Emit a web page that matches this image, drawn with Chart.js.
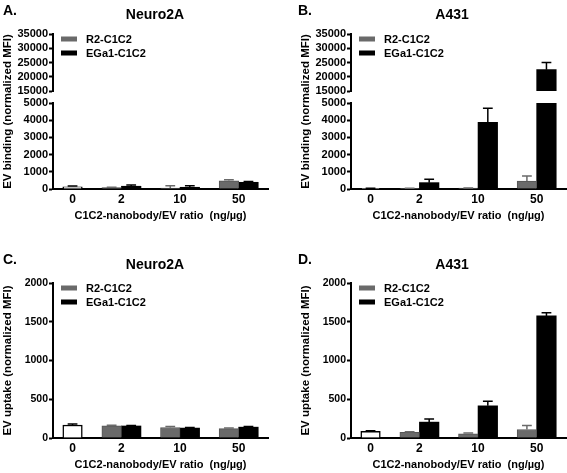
<!DOCTYPE html>
<html>
<head>
<meta charset="utf-8">
<script src="https://cdn.jsdelivr.net/npm/chart.js@4.4.1/dist/chart.umd.min.js"></script>
<style>
  html, body { margin: 0; padding: 0; background: #fff; }
  body { width: 567px; height: 473px; position: relative; overflow: hidden;
         font-family: 'Liberation Sans', Arial, Helvetica, sans-serif; font-weight: bold; color: #000; }
  canvas { position: absolute; }
  .letter, .title { position: absolute; white-space: nowrap; line-height: 1; font-size: 14px; }
  .letter { transform: translateY(-50%); }
  .title { transform: translate(-50%, -50%); }
  .legend { position: absolute; font-size: 11px; line-height: 1; }
  .legend .row { position: absolute; left: 0; white-space: nowrap; transform: translateY(-50%);
                 display: flex; align-items: center; }
  .legend .sw { display: inline-block; width: 16px; height: 5px; margin-right: 9px; }
</style>
</head>
<body>
<canvas id="cA" width="269" height="224" style="left:0;top:0"></canvas>
<canvas id="cB" width="269" height="224" style="left:298px;top:0"></canvas>
<canvas id="cC" width="269" height="224" style="left:0;top:249px"></canvas>
<canvas id="cD" width="269" height="224" style="left:298px;top:249px"></canvas>

<div class="letter" style="left:3px;top:10px">A.</div>
<div class="letter" style="left:298px;top:10px">B.</div>
<div class="letter" style="left:3px;top:259px">C.</div>
<div class="letter" style="left:298px;top:259px">D.</div>
<div class="title" style="left:155px;top:14px">Neuro2A</div>
<div class="title" style="left:452px;top:14px">A431</div>
<div class="title" style="left:155px;top:264px">Neuro2A</div>
<div class="title" style="left:452px;top:264px">A431</div>

<script>
const doses = ['0', '2', '10', '50'];
const seriesLabels = ['R2-C1C2', 'EGa1-C1C2'];

// A. EV binding, Neuro2A (control at 0, then 2/10/50 ng/ug)
const bindNeuroCtrl = [130];
const bindNeuroCtrlErr = [50];
const bindNeuroR2 = [80, 60, 480];
const bindNeuroR2Err = [15, 130, 60];
const bindNeuroEGa1 = [160, 100, 390];
const bindNeuroEGa1Err = [70, 90, 50];

// B. EV binding, A431
const bindA431Ctrl = [40];
const bindA431CtrlErr = [10];
const bindA431R2 = [40, 50, 460];
const bindA431R2Err = [10, 10, 290];
const bindA431EGa1 = [370, 3870, 22500];
const bindA431EGa1Err = [190, 830, 2500];

// C. EV uptake, Neuro2A
const upNeuroCtrl = [168];
const upNeuroCtrlErr = [12];
const upNeuroR2 = [158, 135, 120];
const upNeuroR2Err = [8, 14, 8];
const upNeuroEGa1 = [155, 128, 140];
const upNeuroEGa1Err = [6, 6, 8];

// D. EV uptake, A431
const upA431Ctrl = [85];
const upA431CtrlErr = [8];
const upA431R2 = [72, 55, 110];
const upA431R2Err = [8, 10, 50];
const upA431EGa1 = [205, 415, 1575];
const upA431EGa1Err = [40, 60, 40];

// y tick labels
const bindLowTicks = [0, 1000, 2000, 3000, 4000, 5000];
const bindHighTicks = [15000, 20000, 25000, 30000, 35000];
const uptakeTicks = [0, 500, 1000, 1500, 2000];

Chart.defaults.font.family = "'Liberation Sans', Arial, Helvetica, sans-serif";
Chart.defaults.font.weight = 'bold';
Chart.defaults.color = '#000';

const R2_COLOR = '#6a6a6a';
const EGA_COLOR = '#000000';
const seriesColors = [R2_COLOR, EGA_COLOR];

// x runs in bar-width slots: control alone, then R2/EGa1 pairs with an empty slot between groups
const SLOTS = 11;
const ctrlSlot = 1;
const pairSlot = (i, s) => 3 + 3 * i + s;
const groupCenters = [ctrlSlot, pairSlot(0, 0.5), pairSlot(1, 0.5), pairSlot(2, 0.5)];

// SEM whiskers, upward only, same colour as the bar
const errorBars = {
    id: 'errorBars',
    afterDatasetsDraw(chart) {
        const ctx = chart.ctx;
        chart.data.datasets.forEach((ds, di) => {
            if (!ds.errors) return;
            const meta = chart.getDatasetMeta(di);
            const yScale = chart.scales[meta.yAxisID];
            meta.data.forEach((bar, i) => {
                const v = ds.data[i].y, e = ds.errors[i];
                if (v == null || e == null) return;
                const y0 = yScale.getPixelForValue(v);
                const y1 = yScale.getPixelForValue(v + e);
                const half = bar.width * 0.25;
                ctx.save();
                ctx.strokeStyle = ds.errorColor;
                ctx.lineWidth = 1.5;
                ctx.beginPath();
                ctx.moveTo(bar.x, y0);
                ctx.lineTo(bar.x, y1);
                ctx.moveTo(bar.x - half, y1);
                ctx.lineTo(bar.x + half, y1);
                ctx.stroke();
                ctx.restore();
            });
        });
    }
};

function makeSets(p, yAxisID, lo, hi) {
    // bars are cut at the top of the axis window, errors only where the bar ends inside it
    const fit = v => (v > lo ? Math.min(v, hi) : null);
    const errFit = (v, e) => (v > lo && v <= hi ? e : null);
    return [
        { label: 'control', yAxisID,
          data: p.ctrl.map(v => ({ x: ctrlSlot, y: fit(v) })),
          errors: p.ctrl.map((v, i) => errFit(v, p.ctrlErr[i])),
          backgroundColor: '#ffffff', borderColor: '#000', borderWidth: 1.5, errorColor: '#000' },
        { label: seriesLabels[0], yAxisID,
          data: p.r2.map((v, i) => ({ x: pairSlot(i, 0), y: fit(v) })),
          errors: p.r2.map((v, i) => errFit(v, p.r2Err[i])),
          backgroundColor: R2_COLOR, borderColor: '#555', borderWidth: 1, errorColor: R2_COLOR },
        { label: seriesLabels[1], yAxisID,
          data: p.eg.map((v, i) => ({ x: pairSlot(i, 1), y: fit(v) })),
          errors: p.eg.map((v, i) => errFit(v, p.egErr[i])),
          backgroundColor: EGA_COLOR, borderColor: EGA_COLOR, borderWidth: 0, errorColor: EGA_COLOR }
    ];
}

function valueAxis(ticks, tickSize, extra) {
    return Object.assign({
        position: 'left',
        beginAtZero: false,
        min: ticks[0],
        max: ticks[ticks.length - 1],
        afterBuildTicks: s => { s.ticks = ticks.map(value => ({ value })); },
        ticks: { autoSkip: false, padding: 1, font: { size: tickSize, weight: 'bold' }, callback: v => String(v) },
        grid: { drawOnChartArea: false, drawTicks: true, tickLength: 4, tickWidth: 2, tickColor: '#000' },
        border: { color: '#000', width: 2 }
    }, extra);
}

const xAxis = {
    type: 'linear',
    min: 0,
    max: SLOTS,
    offset: false,
    afterBuildTicks: s => { s.ticks = groupCenters.map(value => ({ value })); },
    afterFit: s => { s.height = 35; },
    grid: { display: false, drawTicks: false },
    border: { color: '#000', width: 2 },
    ticks: { autoSkip: false, maxRotation: 0, padding: 3, font: { size: 12, weight: 'bold' },
             callback: (v, i) => doses[i] },
    title: { display: true, text: 'C1C2-nanobody/EV ratio  (ng/µg)',
             font: { size: 11, weight: 'bold' }, padding: { top: 2, bottom: 1 } }
};

const yTitleText = { bind: 'EV binding (normalized MFI)', uptake: 'EV uptake (normalized MFI)' };

function makeChart(p) {
    let datasets, scales;
    if (p.broken) {
        datasets = makeSets(p, 'yLow', 0, bindLowTicks[bindLowTicks.length - 1])
            .concat(makeSets(p, 'yHigh', bindHighTicks[0], bindHighTicks[bindHighTicks.length - 1]));
        scales = {
            x: xAxis,
            yLow: valueAxis(bindLowTicks, 11, { stack: 'left', stackWeight: 86, afterFit: s => { s.width = 37; } }),
            yGap: { position: 'left', stack: 'left', stackWeight: 12,
                    ticks: { display: false }, grid: { display: false, drawTicks: false },
                    border: { display: false }, afterFit: s => { s.width = 37; } },
            yHigh: valueAxis(bindHighTicks, 11, { stack: 'left', stackWeight: 57, afterFit: s => { s.width = 37; } }),
            yTitle: { position: 'left', weight: 1,
                      ticks: { display: false }, grid: { display: false, drawTicks: false },
                      border: { display: false },
                      title: { display: true, text: yTitleText.bind, padding: 1, font: { size: 11.5, weight: 'bold' } },
                      afterFit: s => { s.width = 16; } }
        };
    } else {
        datasets = makeSets(p, 'y', 0, uptakeTicks[uptakeTicks.length - 1]);
        scales = {
            x: xAxis,
            y: valueAxis(uptakeTicks, 10.5, {
                title: { display: true, text: yTitleText.uptake, padding: 1, font: { size: 11.5, weight: 'bold' } },
                afterFit: s => { s.width = 53; }
            })
        };
    }
    const chart = new Chart(document.getElementById(p.canvas), {
        type: 'bar',
        data: { datasets },
        options: {
            responsive: false,
            animation: false,
            events: [],
            grouped: false,
            barPercentage: 1,
            categoryPercentage: 1,
            layout: { padding: { top: 34, right: 1, left: 0, bottom: 0 } },
            plugins: { legend: { display: false }, tooltip: { enabled: false }, title: { display: false } },
            scales
        },
        plugins: [errorBars]
    });
    addLegend(chart, p.left, p.top);
    return chart;
}

function addLegend(chart, left, top) {
    const area = chart.chartArea;
    const box = document.createElement('div');
    box.className = 'legend';
    box.style.left = (left + area.left + 8) + 'px';
    box.style.top = (top + area.top) + 'px';
    seriesLabels.forEach((name, i) => {
        const row = document.createElement('div');
        row.className = 'row';
        row.style.top = (4.8 + i * 13.8) + 'px';
        row.innerHTML = `<span class="sw" style="background:${seriesColors[i]}"></span>${name}`;
        box.appendChild(row);
    });
    document.body.appendChild(box);
}

const panels = [
    { canvas: 'cA', left: 0, top: 0, broken: true,
      ctrl: bindNeuroCtrl, ctrlErr: bindNeuroCtrlErr, r2: bindNeuroR2, r2Err: bindNeuroR2Err, eg: bindNeuroEGa1, egErr: bindNeuroEGa1Err },
    { canvas: 'cB', left: 298, top: 0, broken: true,
      ctrl: bindA431Ctrl, ctrlErr: bindA431CtrlErr, r2: bindA431R2, r2Err: bindA431R2Err, eg: bindA431EGa1, egErr: bindA431EGa1Err },
    { canvas: 'cC', left: 0, top: 249, broken: false,
      ctrl: upNeuroCtrl, ctrlErr: upNeuroCtrlErr, r2: upNeuroR2, r2Err: upNeuroR2Err, eg: upNeuroEGa1, egErr: upNeuroEGa1Err },
    { canvas: 'cD', left: 298, top: 249, broken: false,
      ctrl: upA431Ctrl, ctrlErr: upA431CtrlErr, r2: upA431R2, r2Err: upA431R2Err, eg: upA431EGa1, egErr: upA431EGa1Err }
];

panels.forEach(makeChart);
</script>
</body>
</html>
